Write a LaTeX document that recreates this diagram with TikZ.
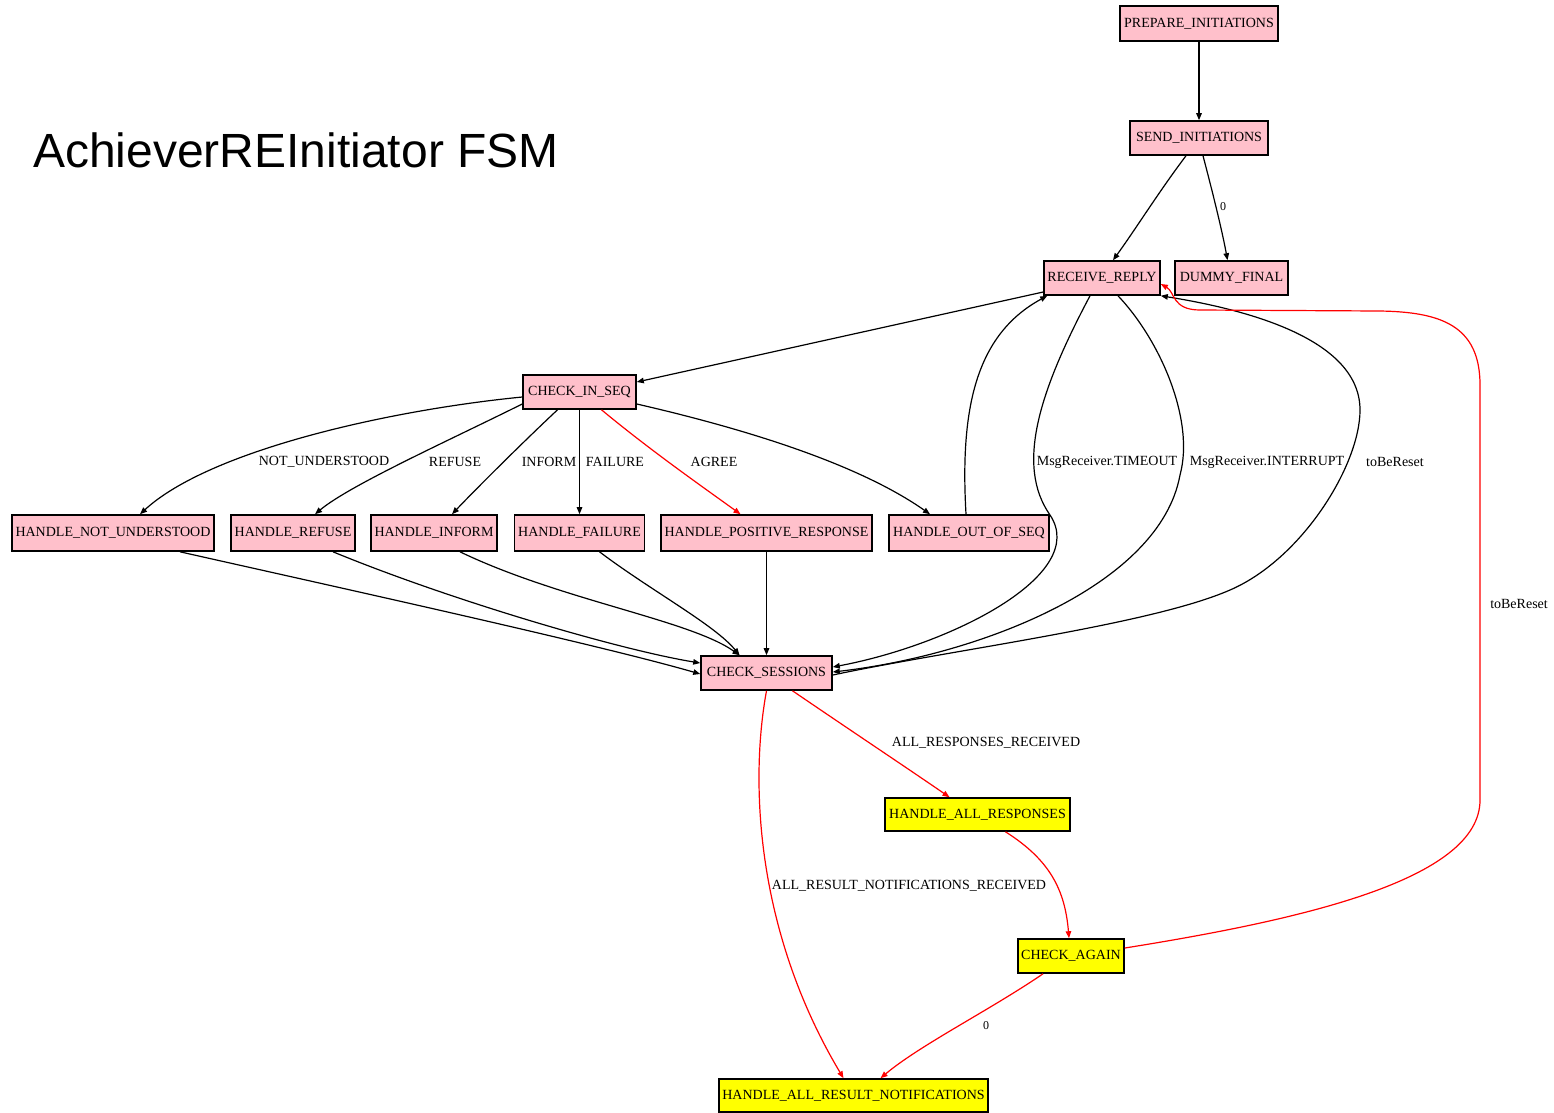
\documentclass[tikz,border=0pt]{standalone}
\usepackage{fontspec}
\setmainfont{Liberation Serif}
\newfontfamily\titlefont{Liberation Sans}
\usetikzlibrary{arrows.meta,calc}

\definecolor{statepink}{HTML}{FFC0CB}
\definecolor{stateyellow}{HTML}{FFFF00}
\definecolor{edgered}{HTML}{FF0000}

\tikzset{
  state/.style={draw=black, line width=1.6pt, inner sep=1pt, minimum height=34pt,
    font=\fontsize{14}{16}\selectfont},
  pinkstate/.style={state, fill=statepink},
  yellowstate/.style={state, fill=stateyellow},
  tr/.style={line width=1.2pt, -{Triangle[length=7pt,width=5.5pt]}},
  redtr/.style={tr, draw=edgered},
  lbl/.style={inner sep=0pt, font=\fontsize{14}{16}\selectfont},
  smalllbl/.style={inner sep=0pt, font=\fontsize{12}{14}\selectfont}
}

\begin{document}
\begin{tikzpicture}[x=1pt, y=-1pt]
\useasboundingbox (0,0) rectangle (1554,1112);

% title
\node[anchor=base west, inner sep=0pt, font=\titlefont\fontsize{48}{56}\selectfont] (title) at (33,167) {AchieverREInitiator FSM};

% states
\node[pinkstate, minimum width=158pt, minimum height=35pt] (prep) at (1199,23.5) {PREPARE\_INITIATIONS};
\node[pinkstate, minimum width=138pt] (send) at (1199,138) {SEND\_INITIATIONS};
\node[pinkstate, minimum width=116pt] (recv) at (1102,278) {RECEIVE\_REPLY};
\node[pinkstate, minimum width=113pt] (dummy) at (1231.5,278) {DUMMY\_FINAL};
\node[pinkstate, minimum width=113pt] (cis) at (579.5,392) {CHECK\_IN\_SEQ};
\node[pinkstate, minimum width=202pt, minimum height=36pt] (hnu) at (113,533) {HANDLE\_NOT\_UNDERSTOOD};
\node[pinkstate, minimum width=124pt, minimum height=36pt] (hrf) at (293,533) {HANDLE\_REFUSE};
\node[pinkstate, minimum width=126pt, minimum height=36pt] (hin) at (434,533) {HANDLE\_INFORM};
\node[pinkstate, minimum width=130pt, minimum height=36pt] (hfa) at (579.5,533) {HANDLE\_FAILURE};
\node[pinkstate, minimum width=211pt, minimum height=36pt] (hpr) at (766.5,533) {HANDLE\_POSITIVE\_RESPONSE};
\node[pinkstate, minimum width=160pt, minimum height=36pt] (hos) at (969,533) {HANDLE\_OUT\_OF\_SEQ};
\node[pinkstate, minimum width=131pt] (cs) at (766.5,673) {CHECK\_SESSIONS};
\node[yellowstate, minimum width=185pt, minimum height=33pt] (har) at (977.5,814.5) {HANDLE\_ALL\_RESPONSES};
\node[yellowstate, minimum width=106pt] (ca) at (1071,956) {CHECK\_AGAIN};
\node[yellowstate, minimum width=269pt, minimum height=33pt] (harn) at (853.5,1095.5) {HANDLE\_ALL\_RESULT\_NOTIFICATIONS};

% initiation phase
\draw[tr] (prep.south) -- (send.north);
\draw[tr] ($(send.south)+(-13,0)$) .. controls (1160,190) and (1135,230) .. ($(recv.north)+(11,0)$);
\draw[tr] ($(send.south)+(4,0)$) .. controls (1212,190) and (1222,230) .. ($(dummy.north)+(-4,0)$);
\node[smalllbl] (l0a) at (1223,207) {0};

% reply dispatching
\draw[tr] ($(recv.west)+(0,14)$) -- ($(cis.east)+(0,-10)$);
\draw[tr] ($(cis.west)+(0,5)$) .. controls (390,410) and (210,450) .. ($(hnu.north)+(27,0)$);
\draw[tr] ($(cis.west)+(0,12)$) .. controls (450,440) and (350,485) .. ($(hrf.north)+(22,0)$);
\draw[tr] ($(cis.south)+(-22,0)$) .. controls (520,445) and (475,490) .. ($(hin.north)+(18,0)$);
\draw[tr] (cis.south) -- (hfa.north);
\draw[redtr] ($(cis.south)+(22,0)$) .. controls (650,450) and (700,485) .. ($(hpr.north)+(-26,0)$);
\draw[tr] ($(cis.east)+(0,12)$) .. controls (750,430) and (860,465) .. ($(hos.north)+(-39,0)$);
\node[lbl] (lnu) at (324,462) {NOT\_UNDERSTOOD};
\node[lbl] (lrf) at (455,462) {REFUSE};
\node[lbl] (lin) at (549,462) {INFORM};
\node[lbl] (lfa) at (615,462) {FAILURE};
\node[lbl] (lag) at (714,462) {AGREE};

% out of sequence goes back to waiting
\draw[tr] ($(hos.north)+(-3,0)$) .. controls (960,410) and (975,335) .. ($(recv.south west)+(4,0)$);

% timeout / interrupt / reset
\draw[tr] ($(recv.south)+(-12,0)$) .. controls (1040,390) and (1015,465) .. (1050,515)
  .. controls (1090,575) and (950,645) .. ($(cs.east)+(0,-6)$);
\draw[tr] ($(recv.south)+(16,0)$) .. controls (1160,340) and (1195,420) .. (1180,475)
  .. controls (1160,585) and (980,655) .. ($(cs.east)+(0,-1)$);
\draw[tr] ($(cs.east)+(0,2)$) .. controls (950,650) and (1150,625) .. (1230,590)
  .. controls (1302,559) and (1360,465) .. (1360,410)
  .. controls (1360,340) and (1250,310) .. (recv.south east);
\node[lbl] (lto) at (1107,462) {MsgReceiver.TIMEOUT};
\node[lbl] (lint) at (1267,462) {MsgReceiver.INTERRUPT};
\node[lbl] (lrs1) at (1395,462) {toBeReset};

% handlers return to session check
\draw[tr] ($(hnu.south)+(67,0)$) .. controls (350,590) and (600,645) .. ($(cs.west)+(0,1)$);
\draw[tr] ($(hrf.south)+(40,0)$) .. controls (450,600) and (620,650) .. ($(cs.west)+(0,-10)$);
\draw[tr] ($(hin.south)+(26,0)$) .. controls (560,600) and (690,620) .. ($(cs.north)+(-27,0)$);
\draw[tr] ($(hfa.south)+(20,0)$) .. controls (650,590) and (715,625) .. ($(cs.north)+(-27,0)$);
\draw[tr] (hpr.south) -- (cs.north);

% completion
\draw[redtr] ($(cs.south)+(26,0)$) .. controls (850,730) and (910,770) .. ($(har.north)+(-28,0)$);
\node[lbl] (lar) at (986,743) {ALL\_RESPONSES\_RECEIVED};
\draw[redtr] (cs.south) .. controls (750,780) and (755,930) .. ($(harn.north)+(-10,0)$);
\node[lbl] (larn) at (909,886) {ALL\_RESULT\_NOTIFICATIONS\_RECEIVED};
\draw[redtr] ($(har.south)+(28,0)$) .. controls (1050,860) and (1065,890) .. ($(ca.north)+(-2,0)$);
\draw[redtr] ($(ca.south)+(-28,0)$) .. controls (990,1010) and (920,1045) .. ($(harn.north)+(27,0)$);
\node[smalllbl] (l0b) at (986,1026) {0};
\draw[redtr] ($(ca.east)+(0,-8)$) .. controls (1300,920) and (1480,880) .. (1480,800)
  -- (1480,385) .. controls (1480,325) and (1440,312) .. (1380,311)
  -- (1200,310) .. controls (1172,310) and (1175,292) .. ($(recv.east)+(0,6)$);
\node[lbl] (lrs2) at (1519,604) {toBeReset};
\end{tikzpicture}
\end{document}
